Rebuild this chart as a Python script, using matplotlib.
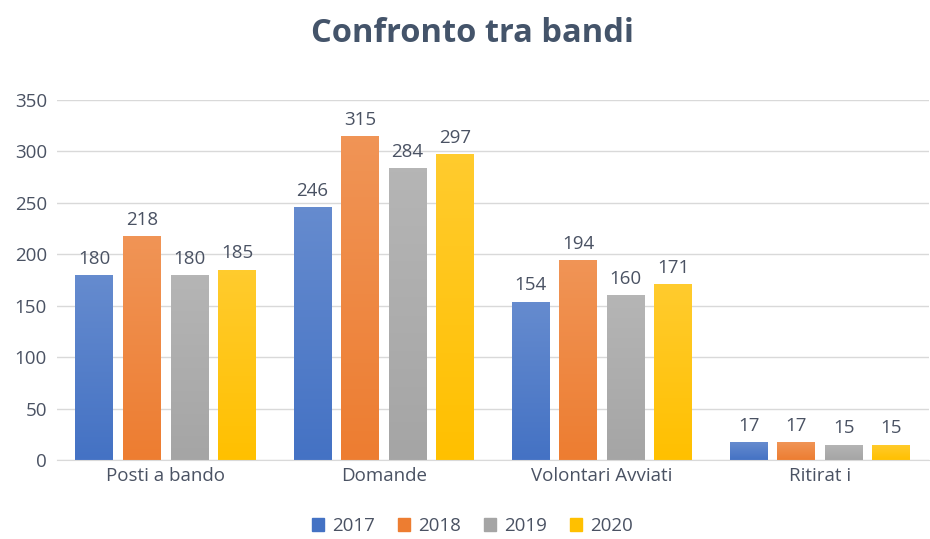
import matplotlib.pyplot as plt
import matplotlib.colors as mcolors
import numpy as np

categories = ["Posti a bando", "Domande", "Volontari Avviati", "Ritirat i"]
years = ["2017", "2018", "2019", "2020"]
v2017 = [180, 246, 154, 17]
v2018 = [218, 315, 194, 17]
v2019 = [180, 284, 160, 15]
v2020 = [185, 297, 171, 15]
series = [v2017, v2018, v2019, v2020]
colors = ["#4472C4", "#ED7D31", "#A5A5A5", "#FFC000"]

plt.rcParams['font.family'] = ['Open Sans', 'DejaVu Sans']
txt = "#4A5263"

fig = plt.figure(figsize=(9.3, 5.39), dpi=100)
ax = fig.add_axes([0.061, 0.1466, 0.938, 0.668])

x = np.arange(len(categories))
step = 0.218
width = 0.174
for i, (vals, col) in enumerate(zip(series, colors)):
    pos = x + (i - 1.5) * step
    bars = ax.bar(pos, vals, width, color=col, label=years[i], zorder=2)
    # vertical gradient, lighter at the top
    base = np.array(mcolors.to_rgb(col))
    light = base + (1 - base) * 0.18
    grad = np.linspace(0, 1, 100)[:, None]
    img = base[None, None, :] * (1 - grad[..., None]) + light[None, None, :] * grad[..., None]
    for b, v in zip(bars, vals):
        b.set_facecolor("none")
        b.set_edgecolor("none")
        im = ax.imshow(img, extent=[b.get_x(), b.get_x() + width, 0, v],
                       origin="lower", aspect="auto", zorder=2)
        im.set_clip_path(b)
        ax.text(b.get_x() + width / 2, v + 7, str(v), ha="center", va="bottom",
                fontsize=13.5, color=txt)

ax.set_xlim(-0.5, 3.5)
ax.set_ylim(0, 350)
ax.set_yticks(range(0, 351, 50))
ax.set_xticks(x)
ax.set_xticklabels(categories)
ax.tick_params(axis="both", length=0, labelsize=13.5, labelcolor=txt)
ax.tick_params(axis="y", pad=7)
ax.tick_params(axis="x", pad=5)
ax.grid(axis="y", color="#D9D9D9", linewidth=1, zorder=0)
ax.set_axisbelow(True)
for s in ["top", "right", "left"]:
    ax.spines[s].set_visible(False)
ax.spines["bottom"].set_color("#D9D9D9")

handles = [plt.Rectangle((0, 0), 1, 1, color=c) for c in colors]
fig.legend(handles, years, loc="center", bbox_to_anchor=(0.508, 0.024), ncol=4,
           frameon=False, fontsize=13.5, handlelength=0.65, handleheight=0.65,
           columnspacing=1.2, handletextpad=0.45, labelcolor=txt)

fig.text(0.508, 0.938, "Confronto tra bandi", ha="center", va="center",
         fontsize=23.5, fontweight="bold", color="#44546A")

fig.savefig("out.png", dpi=100)
